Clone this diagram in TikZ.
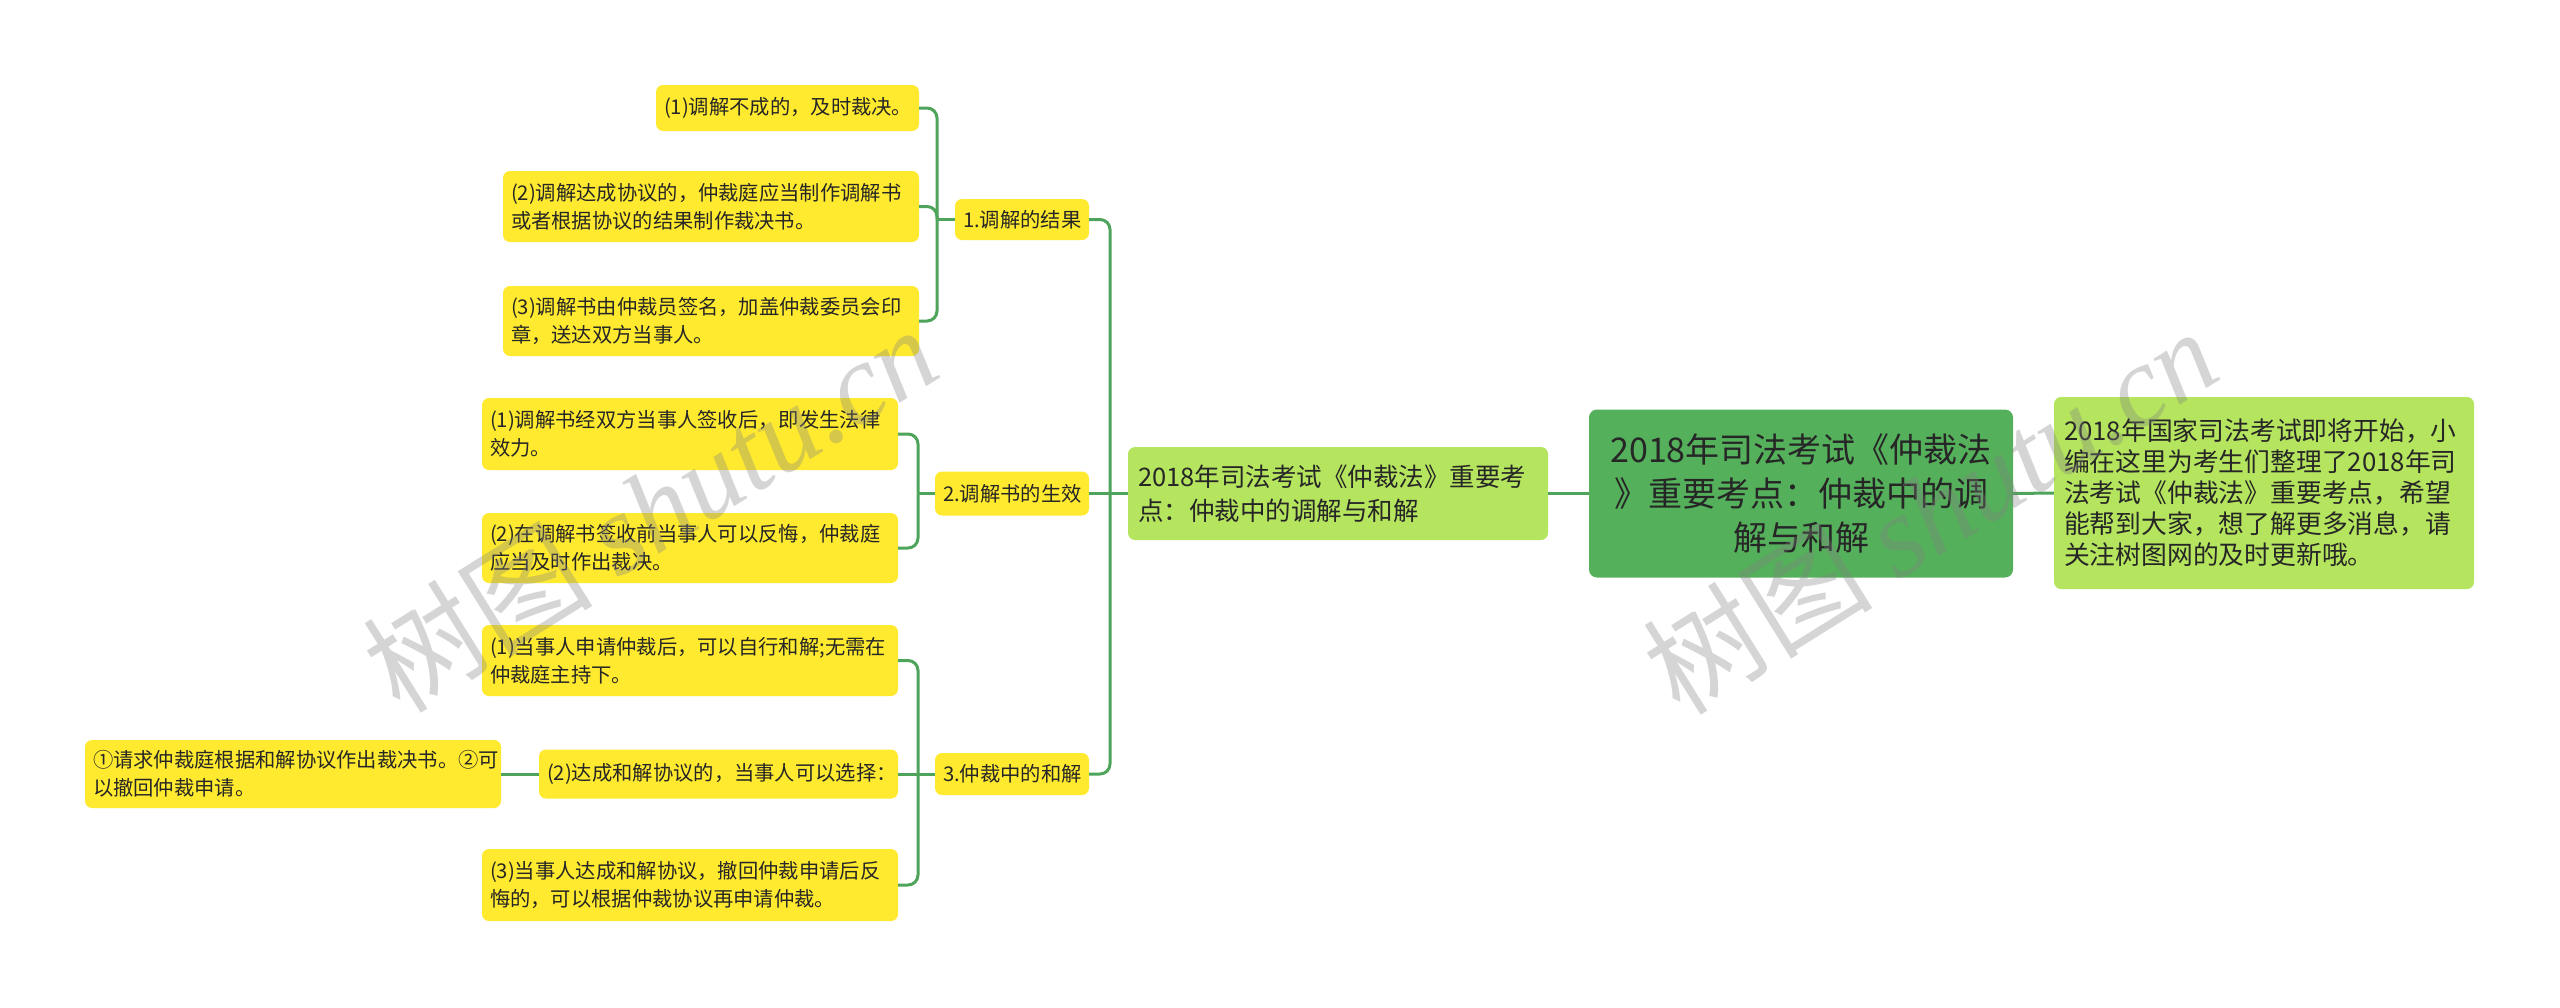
\documentclass[tikz,border=0pt]{standalone}
\usepackage{fontspec}
\setmainfont{Noto Sans CJK SC}
\newfontfamily\wmfont{Liberation Serif}
\definecolor{yel}{HTML}{FFEA2F}
\definecolor{lgr}{HTML}{B5E45E}
\definecolor{dgr}{HTML}{55B05B}
\definecolor{lin}{HTML}{4DA45A}
\definecolor{txt}{HTML}{262626}
\tikzset{
  base/.style={rounded corners=7pt, inner xsep=8pt, inner ysep=0pt, align=left, text=txt},
  yb/.style={base, fill=yel, font=\fontsize{20.3}{28}\selectfont},
  link/.style={draw=lin, line width=3pt, rounded corners=10pt},
  wm/.style={rotate=32, text=black!50, opacity=0.33, font=\fontsize{115}{115}\selectfont}
}
\begin{document}
\begin{tikzpicture}[x=1pt,y=-1pt]
\useasboundingbox (0,0) rectangle (2560,1007);
% main nodes
\node[base, fill=dgr, align=center, rounded corners=8pt, text width=408pt, minimum height=168pt, font=\fontsize{34}{44}\selectfont] (root) at (1801,493.5) {2018年司法考试《仲裁法\\》重要考点：仲裁中的调\\解与和解};
\node[base, fill=lgr, inner xsep=10pt, text width=400pt, minimum height=192pt, font=\fontsize{25.8}{31}\selectfont] (rt) at (2264,493) {2018年国家司法考试即将开始，小\\编在这里为考生们整理了2018年司\\法考试《仲裁法》重要考点，希望\\能帮到大家，想了解更多消息，请\\关注树图网的及时更新哦。};
\node[base, fill=lgr, inner xsep=10pt, text width=400pt, minimum height=93pt, font=\fontsize{25.5}{34}\selectfont] (lm) at (1338,493.5) {2018年司法考试《仲裁法》重要考\\点：仲裁中的调解与和解};
% level 2
\node[yb, text width=118pt, minimum height=41pt] (n1) at (1022,219.5) {1.调解的结果};
\node[yb, text width=138pt, minimum height=44pt] (n2) at (1012,493.5) {2.调解书的生效};
\node[yb, text width=138pt, minimum height=42pt] (n3) at (1012,774) {3.仲裁中的和解};
% level 3
\node[yb, text width=247pt, minimum height=46pt] (a1) at (787.5,108) {(1)调解不成的，及时裁决。};
\node[yb, text width=400pt, minimum height=71pt] (a2) at (711,206.5) {(2)调解达成协议的，仲裁庭应当制作调解书\\或者根据协议的结果制作裁决书。};
\node[yb, text width=400pt, minimum height=70pt] (a3) at (711,321) {(3)调解书由仲裁员签名，加盖仲裁委员会印\\章，送达双方当事人。};
\node[yb, text width=400pt, minimum height=72pt] (b1) at (690,434) {(1)调解书经双方当事人签收后，即发生法律\\效力。};
\node[yb, text width=400pt, minimum height=70pt] (b2) at (690,548) {(2)在调解书签收前当事人可以反悔，仲裁庭\\应当及时作出裁决。};
\node[yb, text width=400pt, minimum height=71pt] (c1) at (690,660.5) {(1)当事人申请仲裁后，可以自行和解;无需在\\仲裁庭主持下。};
\node[yb, text width=343pt, minimum height=49pt] (c2) at (718.5,774) {(2)达成和解协议的，当事人可以选择：};
\node[yb, text width=400pt, minimum height=72pt] (c3) at (690,885) {(3)当事人达成和解协议，撤回仲裁申请后反\\悔的，可以根据仲裁协议再申请仲裁。};
\node[yb, text width=400pt, minimum height=68pt] (c2a) at (293,774) {①请求仲裁庭根据和解协议作出裁决书。②可\\以撤回仲裁申请。};
% bus coordinates
\coordinate (j0) at (1110,0);
\coordinate (j1) at (937,0);
\coordinate (j2) at (918,0);
% connectors
\draw[link] (root.west) -- (lm.east);
\draw[link] (root.east) -- (rt.west);
\draw[link] (lm.west) -- (lm.west -| j0);
\draw[link] (n1.east) -| (lm.west -| j0);
\draw[link] (n2.east) -- (lm.west -| j0);
\draw[link] (n3.east) -| (lm.west -| j0);
\draw[link] (n1.west) -- (n1.west -| j1);
\draw[link] (a1.east) -| (n1.west -| j1);
\draw[link] (a2.east) -| (n1.west -| j1);
\draw[link] (a3.east) -| (n1.west -| j1);
\draw[link] (n2.west) -- (n2.west -| j2);
\draw[link] (b1.east) -| (n2.west -| j2);
\draw[link] (b2.east) -| (n2.west -| j2);
\draw[link] (n3.west) -- (n3.west -| j2);
\draw[link] (c1.east) -| (n3.west -| j2);
\draw[link] (c2.east) -- (n3.west -| j2);
\draw[link] (c3.east) -| (n3.west -| j2);
\draw[link] (c2.west) -- (c2a.east);
% watermarks
\node[wm] (wm1) at (650,508) {树图 {\wmfont\itshape shutu.cn}};
\node[wm] (wm2) at (1930,510) {树图 {\wmfont\itshape shutu.cn}};
\end{tikzpicture}
\end{document}
